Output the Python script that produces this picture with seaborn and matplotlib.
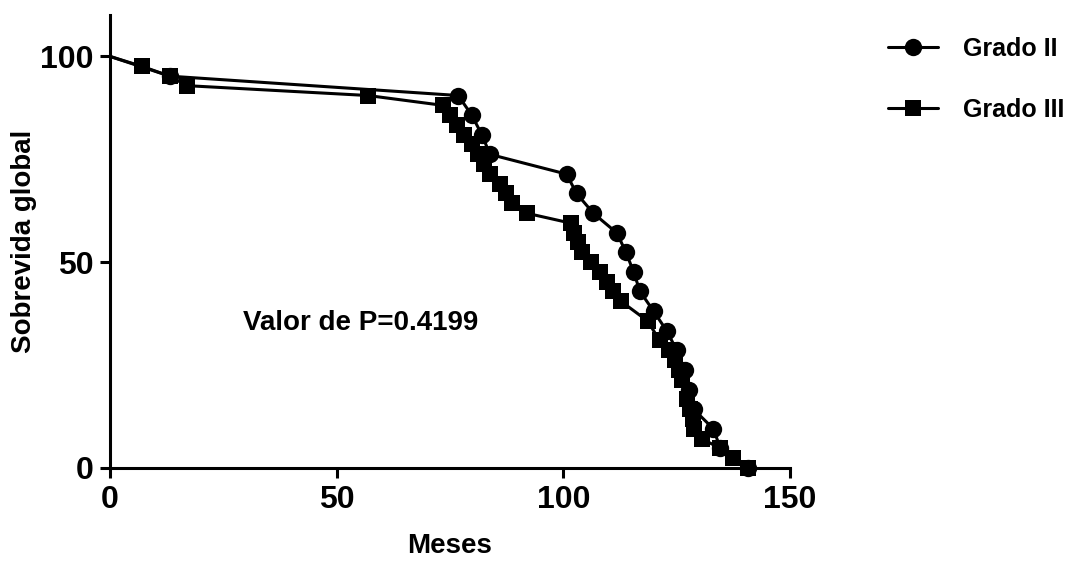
import seaborn as sns
import pandas as pd
import matplotlib.pyplot as plt

sns.set_style('ticks')
plt.rcParams['font.family'] = ['Liberation Sans', 'DejaVu Sans']
plt.rcParams['font.weight'] = 'bold'
plt.rcParams['text.color'] = 'black'
plt.rcParams['axes.labelcolor'] = 'black'
plt.rcParams['xtick.color'] = 'black'
plt.rcParams['ytick.color'] = 'black'

# Grado II (circulos)
meses_g2 = [0, 13.2, 76.8, 79.8, 82.0, 83.8, 100.7, 102.9, 106.6, 111.8, 113.8,
            115.5, 116.9, 119.9, 122.8, 125.0, 126.8, 127.6, 128.7, 133.1, 134.6, 140.8]
sobrevida_g2 = [100, 95.2, 90.5, 85.7, 81.0, 76.2, 71.4, 66.7, 61.9, 57.1, 52.4,
                47.6, 42.9, 38.1, 33.3, 28.6, 23.8, 19.0, 14.3, 9.5, 4.8, 0]

# Grado III (cuadrados)
meses_g3 = [0, 7, 13.2, 16.9, 56.9, 73.5, 75.0, 76.5, 78.0, 79.8, 81.2, 82.5,
            83.8, 86.0, 87.4, 88.6, 91.9, 101.6, 102.3, 103.2, 104.2, 106.0,
            108.0, 109.6, 111.0, 112.7, 118.6, 121.2, 123.4, 124.6, 125.6, 126.2,
            127.2, 128.0, 128.5, 128.9, 130.5, 134.6, 137.5, 140.8]
sobrevida_g3 = [100, 97.6, 95.2, 92.9, 90.5, 88.1, 85.7, 83.3, 81.0, 78.6, 76.2, 73.8,
                71.4, 69.0, 66.7, 64.3, 61.9, 59.5, 57.1, 54.8, 52.4, 50.0,
                47.6, 45.2, 42.9, 40.5, 35.7, 31.0, 28.6, 26.2, 23.8, 21.4,
                16.7, 14.3, 11.9, 9.5, 7.1, 4.8, 2.4, 0]

df_g2 = pd.DataFrame({'Meses': meses_g2, 'Sobrevida': sobrevida_g2})
df_g3 = pd.DataFrame({'Meses': meses_g3, 'Sobrevida': sobrevida_g3})

fig = plt.figure(figsize=(10.82, 5.61), dpi=100)
ax = fig.add_axes([0.1017, 0.1658, 0.6285, 0.807])

# no marker on the starting point (0, 100)
sns.lineplot(data=df_g2, x='Meses', y='Sobrevida', ax=ax, color='black',
             marker='o', markersize=12.5, markeredgewidth=0, linewidth=2.2,
             markevery=list(range(1, len(meses_g2))),
             estimator=None, label='Grado II', clip_on=False)
sns.lineplot(data=df_g3, x='Meses', y='Sobrevida', ax=ax, color='black',
             marker='s', markersize=11.5, markeredgewidth=0, linewidth=2.2,
             markevery=list(range(1, len(meses_g3))),
             estimator=None, label='Grado III', clip_on=False)

ax.set_xlim(0, 150)
ax.set_ylim(0, 110)
ax.set_xticks([0, 50, 100, 150])
ax.set_yticks([0, 50, 100])
ax.spines['right'].set_visible(False)
ax.spines['top'].set_visible(False)
for s in ['left', 'bottom']:
    ax.spines[s].set_linewidth(2.2)
    ax.spines[s].set_color('black')
ax.tick_params(width=2.2, length=7, labelsize=23, pad=5)

ax.set_xlabel('Meses', fontsize=20, fontweight='bold', labelpad=13)
ax.set_ylabel('Sobrevida global', fontsize=20, fontweight='bold', labelpad=2)

ax.text(55.2, 35.3, 'Valor de P=0.4199', fontsize=20, fontweight='bold',
        ha='center', va='center')

ax.legend(loc='upper left', bbox_to_anchor=(0.80, 0.975),
          bbox_transform=fig.transFigure, frameon=False, fontsize=18,
          handlelength=2.0, handletextpad=1.0, labelspacing=1.5)

plt.savefig('out.png', dpi=100)
